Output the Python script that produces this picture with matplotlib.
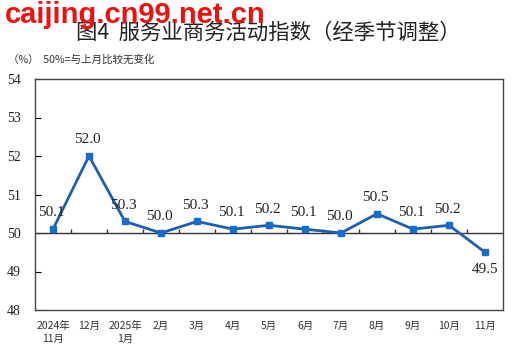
#!/usr/bin/env python3
"""
服务业商务活动指数（经季节调整）折线图
"""

import matplotlib
matplotlib.use('Agg')
import matplotlib.pyplot as plt
import numpy as np

# データ
months = ['2024年\n11月', '12月', '2025年\n1月', '2月', '3月', '4月', '5月',
          '6月', '7月', '8月', '9月', '10月', '11月']
values = [50.1, 52.0, 50.3, 50.0, 50.3, 50.1, 50.2, 50.1, 50.0, 50.5, 50.1, 50.2, 49.5]
y_ticks = [48, 49, 50, 51, 52, 53, 54]

CJK = ['Noto Sans CJK SC', 'DejaVu Sans']
NUM = ['Liberation Serif', 'Noto Sans CJK SC']
LINE_C = '#1f5fae'
MARK_C = '#1a6ccc'

fig = plt.figure(figsize=(5.26, 3.63), dpi=100, facecolor='white')
ax = fig.add_axes([35 / 526, 1 - 310 / 363, 468 / 526, 231 / 363])

x = np.arange(len(values))
ax.plot(x, values, color=LINE_C, linewidth=2, marker='s', markersize=5,
        markerfacecolor=MARK_C, markeredgecolor=MARK_C, zorder=3)

# 数値ラベル
for xi, v in zip(x, values):
    if v < 50:
        ax.annotate(f'{v:.1f}', (xi, v), xytext=(0, -8), textcoords='offset points',
                    ha='center', va='top', fontsize=11, family=NUM, color='#222')
    else:
        ax.annotate(f'{v:.1f}', (xi, v), xytext=(-1, 7), textcoords='offset points',
                    ha='center', va='bottom', fontsize=11, family=NUM, color='#222')

# 50 基準線 + 区切り目盛
ax.axhline(50, color='#333', linewidth=1, zorder=2)
ax.vlines(x[:-1] + 0.5, 50, 50.1, color='#333', linewidth=1, zorder=2)

ax.set_xlim(-0.5, len(values) - 0.5)
ax.set_ylim(48, 54)
ax.set_yticks(y_ticks)
ax.set_yticklabels([str(t) for t in y_ticks], family=NUM, fontsize=10, color='#222')
ax.tick_params(axis='y', direction='in', length=4, width=0.8, pad=10)
ax.set_xticks(x)
ax.set_xticklabels(months, family=CJK, fontsize=7.5, color='#333', linespacing=1.3, va='top')
ax.tick_params(axis='x', length=0, pad=8)
for s in ax.spines.values():
    s.set_color('#444')
    s.set_linewidth(1)

# タイトル
fig.text(268 / 526, 1 - 33 / 363, '图4  服务业商务活动指数（经季节调整）', ha='center', va='center',
         fontsize=15.4, family=CJK, color='#222')
fig.text(8 / 526, 1 - 60 / 363, '（%）  50%=与上月比较无变化', ha='left', va='center',
         fontsize=7.6, family=CJK, color='#333')

# 透かし
fig.text(5 / 526, 1 - 15 / 363, 'caijing.cn99.net.cn', ha='left', va='center',
         fontsize=21, family='Liberation Sans', fontweight='bold', color='#ee1111')

plt.savefig('out.png', dpi=100, facecolor='white')
plt.close()
